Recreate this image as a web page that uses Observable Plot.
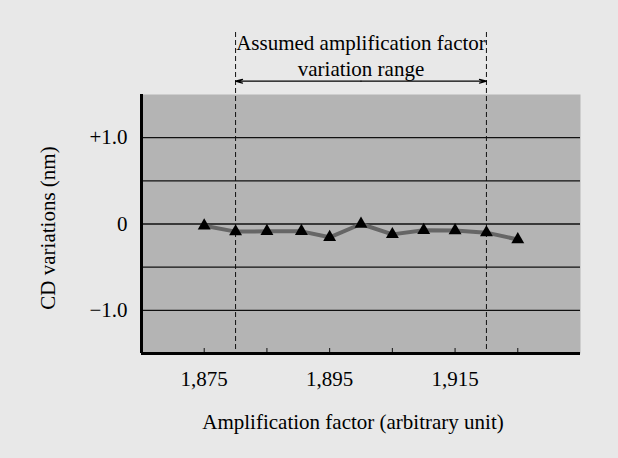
<!DOCTYPE html>
<html><head><meta charset="utf-8">
<script src="https://cdn.jsdelivr.net/npm/d3@7"></script>
<script src="https://cdn.jsdelivr.net/npm/@observablehq/plot@0.6"></script>
<style>html,body{margin:0;padding:0;background:#e8e8e8;} #chart svg{display:block}</style>
</head><body><div id="chart"></div>
<script>
const amplification = [1875, 1880, 1885, 1890.5, 1895, 1900, 1905, 1910, 1915, 1920, 1925];
const cdVariation = [-0.02, -0.088, -0.085, -0.085, -0.154, 0.0, -0.12, -0.073, -0.076, -0.1, -0.18];
const rangeBounds = [1880, 1920];
const xTicks = [1875, 1885, 1895, 1905, 1915, 1925];
const xTickLabels = [1875, 1895, 1915];
const yGrid = [-1, -0.5, 0, 0.5, 1];
const yTickValues = [1, 0, -1];
const yTickLabels = ["+1.0", "0", "\u22121.0"];
const annotationLines = ["Assumed amplification factor", "variation range"];
const xTitle = "Amplification factor (arbitrary unit)";
const yTitle = "CD variations (nm)";

const data = amplification.map((x, i) => ({x, y: cdVariation[i]}));
const yLabelMap = new Map(yTickValues.map((v, i) => [v, yTickLabels[i]]));
const mid = d3.mean(rangeBounds);
const arrows = rangeBounds.map(b => ({from: mid, to: b}));

const chart = Plot.plot({
  width: 618, height: 458,
  marginLeft: 141, marginRight: 38, marginTop: 94, marginBottom: 105,
  style: {background: "#e8e8e8", fontFamily: "'Liberation Serif', 'Times New Roman', serif", fontSize: "21px", color: "#000", overflow: "visible"},
  x: {domain: [1865, 1935]},
  y: {domain: [-1.5, 1.5]},
  marks: [
    Plot.frame({fill: "#b4b4b4", stroke: null}),
    Plot.ruleY(yGrid, {stroke: "#111", strokeWidth: 1.3}),
    Plot.ruleX(rangeBounds, {stroke: "#111", strokeWidth: 1, strokeDasharray: "5,3", insetTop: -62}),
    Plot.line(data, {x: "x", y: "y", stroke: "#666", strokeWidth: 4}),
    Plot.dot(data, {x: "x", y: "y", symbol: "triangle", r: 4.8, fill: "#000", stroke: null}),
    Plot.axisX(xTicks, {tickSize: -5, tickFormat: () => "", label: null, stroke: "#111"}),
    Plot.axisX(xTickLabels, {tickSize: 0, tickPadding: 17.5, tickFormat: d3.format(","), label: null}),
    Plot.axisY(yTickValues, {tickSize: 0, tickPadding: 14, tickFormat: d => yLabelMap.get(d), label: null}),
    Plot.ruleY([-1.5], {stroke: "#000", strokeWidth: 3}),
    Plot.ruleX([1865], {stroke: "#000", strokeWidth: 3}),
    Plot.arrow(arrows, {x1: "from", x2: "to", y1: 1.5, y2: 1.5, dy: -13.3, stroke: "#000", strokeWidth: 1.2, headLength: 9, headAngle: 30}),
    Plot.text([annotationLines[0]], {x: mid, text: d => d, frameAnchor: "top", lineAnchor: "middle", dy: -51.4}),
    Plot.text([annotationLines[1]], {x: mid, text: d => d, frameAnchor: "top", lineAnchor: "middle", dy: -25.7}),
    Plot.text([xTitle], {text: d => d, frameAnchor: "bottom", lineAnchor: "middle", textAnchor: "middle", dx: -8, dy: 68.9}),
    Plot.text([yTitle], {text: d => d, frameAnchor: "left", lineAnchor: "middle", textAnchor: "middle", rotate: -90, dx: -93, dy: 4})
  ]
});
document.getElementById("chart").appendChild(chart);
</script>
</body></html>
